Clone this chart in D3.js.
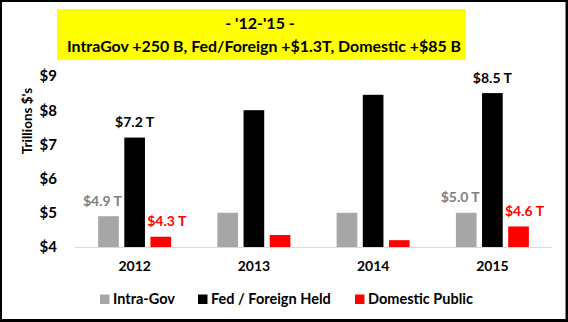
<!DOCTYPE html>
<html>
<head>
<meta charset="utf-8">
<script src="https://cdn.jsdelivr.net/npm/d3@7"></script>
<style>
  html, body { margin: 0; padding: 0; background: #fff; }
  svg text { font-family: Lato, "Open Sans", sans-serif; font-weight: bold; }
</style>
</head>
<body>
<svg id="chart" width="568" height="322"></svg>
<script>
// Debt holdings by year, trillions of dollars
const years = ["2012", "2013", "2014", "2015"];
const seriesNames = ["Intra-Gov", "Fed / Foreign Held", "Domestic Public"];
const intraGov = [4.9, 5.0, 5.0, 5.0];
const fedForeign = [7.2, 8.0, 8.45, 8.5];
const domesticPublic = [4.3, 4.35, 4.2, 4.6];
const yTicks = [4, 5, 6, 7, 8, 9];
const labeledYears = ["2012", "2015"];
const titleLines = ["- '12-'15 -", "IntraGov +250 B, Fed/Foreign +$1.3T, Domestic +$85 B"];
const yAxisTitle = "Trillions $'s";

const colors = ["#a6a6a6", "#000000", "#ff0000"];
const labelColors = ["#7f7f7f", "#000000", "#ff0000"];
const labelDx = [-6, 0, 6];

const series = [intraGov, fedForeign, domesticPublic];

const svg = d3.select("#chart");
const W = 568, H = 322;

// frame
svg.append("rect").attr("x", 0).attr("y", 0).attr("width", W).attr("height", H).attr("fill", "#000");
svg.append("rect").attr("x", 2).attr("y", 2).attr("width", W - 4.5).attr("height", H - 5).attr("fill", "#fff");

// title box
svg.append("rect").attr("x", 57).attr("y", 9).attr("width", 409).attr("height", 51).attr("fill", "#ffff00");
svg.append("text").attr("x", 260).attr("y", 28.5).attr("text-anchor", "middle")
  .attr("font-size", 16).text(titleLines[0]);
svg.append("text").attr("x", 264).attr("y", 51.5).attr("text-anchor", "middle")
  .attr("font-size", 15.5).attr("textLength", 394).attr("lengthAdjust", "spacingAndGlyphs")
  .text(titleLines[1]);

// scales
const x0 = d3.scaleBand().domain(years).range([75, 552]).paddingInner(0.388).paddingOuter(0.194);
const x1 = d3.scaleBand().domain(d3.range(series.length)).range([0, x0.bandwidth()]).paddingInner(0.21).paddingOuter(0);
const y = d3.scaleLinear().domain([4, 9]).range([247, 76]);

// y axis (labels only)
const yAxis = d3.axisLeft(y).tickValues(yTicks).tickFormat(d => "$" + d).tickSize(0).tickPadding(0);
const yg = svg.append("g").attr("transform", "translate(57,0)").call(yAxis);
yg.select(".domain").remove();
yg.selectAll("text").attr("font-size", 15).attr("fill", "#000")
  .style("font-family", "Lato, sans-serif").style("font-weight", "bold");

svg.append("text").attr("transform", "translate(32,121) rotate(-90)").attr("text-anchor", "middle")
  .attr("font-size", 13.5).text(yAxisTitle);

// bars
years.forEach((yr, i) => {
  series.forEach((vals, s) => {
    svg.append("rect")
      .attr("x", x0(yr) + x1(s))
      .attr("y", y(vals[i]))
      .attr("width", x1.bandwidth())
      .attr("height", y(4) - y(vals[i]))
      .attr("fill", colors[s]);
    if (labeledYears.includes(yr)) {
      svg.append("text")
        .attr("x", x0(yr) + x1(s) + x1.bandwidth() / 2 + labelDx[s])
        .attr("y", y(vals[i]) - 10.5)
        .attr("text-anchor", "middle")
        .attr("font-size", 14)
        .attr("fill", labelColors[s])
        .text("$" + vals[i].toFixed(1) + " T");
    }
  });
});

// baseline
svg.append("line").attr("x1", 75).attr("x2", 552).attr("y1", 247.5).attr("y2", 247.5)
  .attr("stroke", "#d9d9d9").attr("stroke-width", 1);

// x axis
const xAxis = d3.axisBottom(x0).tickSize(0).tickPadding(0);
const xg = svg.append("g").attr("transform", "translate(0,261)").call(xAxis);
xg.select(".domain").remove();
xg.selectAll("text").attr("font-size", 14).attr("fill", "#000")
  .style("font-family", "Lato, sans-serif").style("font-weight", "bold");

// legend
const legendX = [100, 198, 355];
seriesNames.forEach((name, s) => {
  svg.append("rect").attr("x", legendX[s]).attr("y", 294.5).attr("width", 9.5).attr("height", 9.5).attr("fill", colors[s]);
  svg.append("text").attr("x", legendX[s] + 13).attr("y", 304).attr("font-size", 14.5).text(name);
});
</script>
</body>
</html>
